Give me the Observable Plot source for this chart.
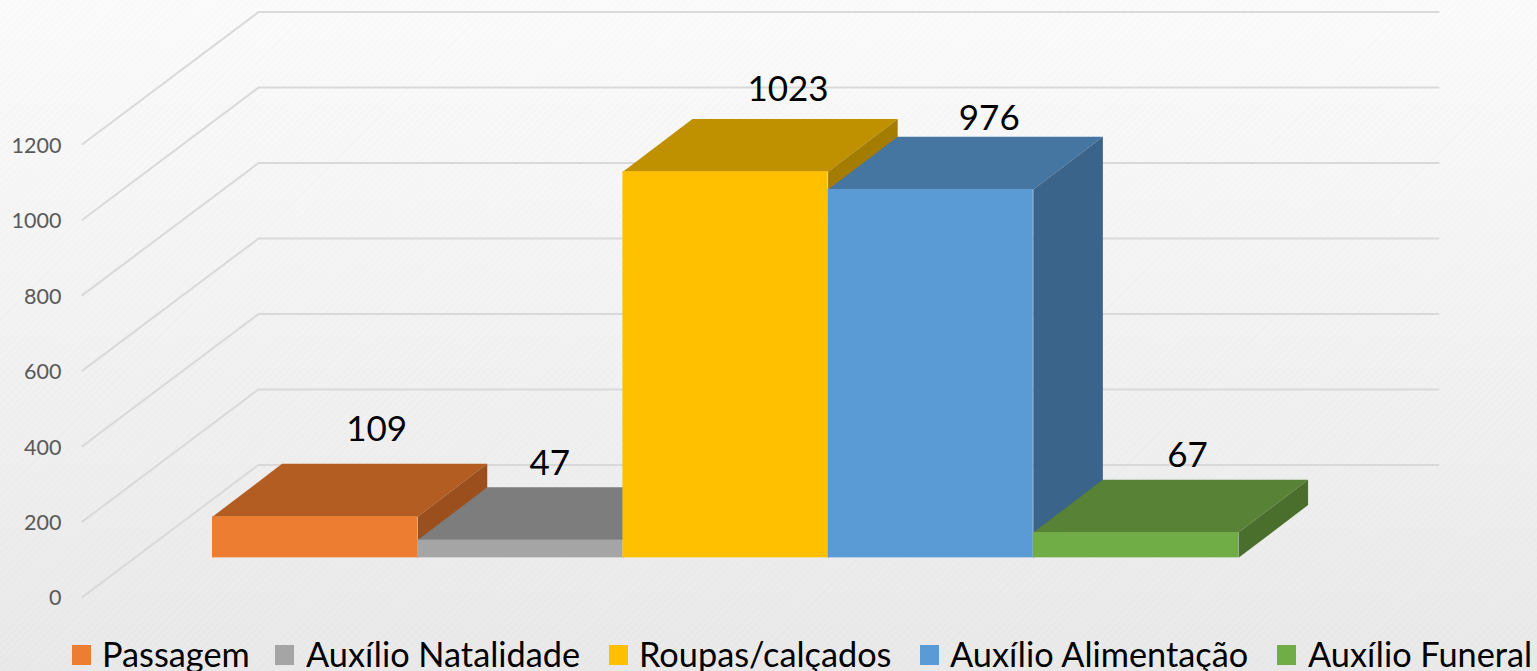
<!DOCTYPE html>
<html lang="pt">
<head>
<meta charset="utf-8">
<title>Auxílios</title>
<script src="https://cdn.jsdelivr.net/npm/d3@7"></script>
<script src="https://cdn.jsdelivr.net/npm/@observablehq/plot@0.6"></script>
<style>
  html, body { margin: 0; padding: 0; width: 1537px; height: 671px; overflow: hidden; }
  body {
    font-family: Lato, "Open Sans", sans-serif;
    background:
      repeating-linear-gradient(135deg, rgba(0,0,0,0.006) 0 2px, rgba(255,255,255,0.012) 2px 5px),
      linear-gradient(180deg, #fbfbfb 0%, #f3f3f3 45%, #e9e9e9 100%);
  }
  #chart svg { display: block; }
  #legend { position: relative; height: 35px; font-size: 34.3px; color: #000; }
  .item { position: absolute; top: 0; white-space: nowrap; line-height: 35px; }
  .swatch { position: absolute; top: 9px; width: 19px; height: 20px; }
</style>
</head>
<body>
<div id="chart"></div>
<div id="legend"></div>
<script>
// Data
const categories = ["Passagem", "Auxílio Natalidade", "Roupas/calçados", "Auxílio Alimentação", "Auxílio Funeral"];
const values = [109, 47, 1023, 976, 67];
const axisTicks = [0, 200, 400, 600, 800, 1000, 1200];

// Styles
const frontColors = ["#ed7d31", "#a5a5a5", "#ffc000", "#5b9bd5", "#70ad47"];
const topColors = ["#b35d22", "#7d7d7d", "#bf9000", "#4575a1", "#588235"];
const sideColors = ["#9a4f1d", "#666666", "#a47c00", "#3a6489", "#4a6e2b"];

// Oblique projection in data units: one unit of depth moves a point this far in x and in y
const barDepth = {x: 0.339, y: 140};
const wallDepth = {x: 0.858, y: 350};
const floorLift = 104;     // bars stand this far above the front edge of the floor
const gridStart = -0.634;  // left end of the floor and wall lines
const gridEnd = 5.975;     // right end of the wall lines

// Hand placement of the data labels (pixels from the back centre of each bar top)
const labelNudge = [[-8, -34], [-40, -23], [-7, -29], [-11, -18], [-18, -24]];
const legendLayout = [[72, 102], [275, 306], [609, 639], [920, 950], [1277, 1308]];

const gridRows = axisTicks.flatMap(v => [
  {v, x: gridStart, y: v},
  {v, x: gridStart + wallDepth.x, y: v + wallDepth.y},
  {v, x: gridEnd, y: v + wallDepth.y}
]);

const barMarks = categories.flatMap((c, i) => {
  const y0 = floorLift, y1 = floorLift + values[i];
  const top = [
    {x: i, y: y1}, {x: i + 1, y: y1},
    {x: i + 1 + barDepth.x, y: y1 + barDepth.y}, {x: i + barDepth.x, y: y1 + barDepth.y}
  ];
  const side = [
    {x: i + 1, y: y0}, {x: i + 1, y: y1},
    {x: i + 1 + barDepth.x, y: y1 + barDepth.y}, {x: i + 1 + barDepth.x, y: y0 + barDepth.y}
  ];
  return [
    Plot.line(top, {x: "x", y: "y", fill: topColors[i], stroke: "none"}),
    Plot.line(side, {x: "x", y: "y", fill: sideColors[i], stroke: "none"}),
    Plot.rect([i], {x1: d => d, x2: d => d + 1, y1: y0, y2: y1, fill: frontColors[i]})
  ];
});

const labelMarks = categories.map((c, i) =>
  Plot.text([values[i]], {
    x: i + 0.5 + barDepth.x,
    y: floorLift + values[i] + barDepth.y,
    text: d => String(d),
    dx: labelNudge[i][0],
    dy: labelNudge[i][1],
    fontSize: 35,
    fill: "#000",
    textAnchor: "middle"
  })
);

const chart = Plot.plot({
  width: 1537,
  height: 636,
  marginLeft: 61,
  marginRight: 0,
  marginTop: 0,
  marginBottom: 0,
  style: {background: "transparent", fontFamily: "Lato, 'Open Sans', sans-serif"},
  x: {domain: [0, 5], range: [212, 1238], axis: null},
  y: {domain: [0, 1550], range: [596.6, 11.6], axis: null},
  marks: [
    Plot.line(gridRows, {x: "x", y: "y", z: "v", stroke: "#d9d9d9", strokeWidth: 2}),
    Plot.axisY({
      ticks: axisTicks, tickSize: 0, tickPadding: 0, tickFormat: d => String(d),
      label: null, fontSize: 21.5, fill: "#595959", anchor: "left", dy: 1.5
    }),
    ...barMarks,
    ...labelMarks
  ]
});
document.getElementById("chart").appendChild(chart);

const legend = document.getElementById("legend");
categories.forEach((c, i) => {
  const swatch = document.createElement("div");
  swatch.className = "swatch";
  swatch.style.left = legendLayout[i][0] + "px";
  swatch.style.background = frontColors[i];
  legend.appendChild(swatch);
  const text = document.createElement("div");
  text.className = "item";
  text.style.left = legendLayout[i][1] + "px";
  text.textContent = c;
  legend.appendChild(text);
});
</script>
</body>
</html>
